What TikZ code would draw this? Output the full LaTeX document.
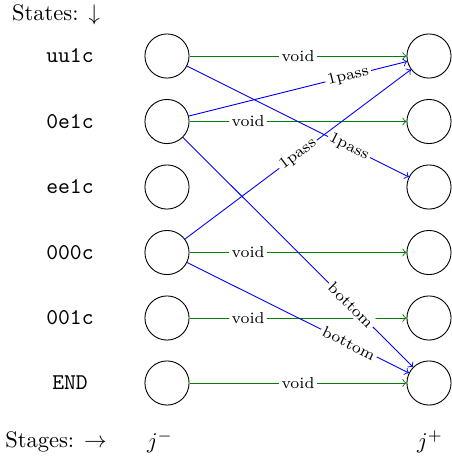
\documentclass[tikz,border=0pt]{standalone}
\begin{document}
\begin{tikzpicture}[x=0.444pt, y=-0.444pt]
    \tikzset{
        statenode/.style={draw, circle, minimum size=19.6pt, inner sep=0pt},
        voidedge/.style={draw=green!50!black, ->},
        passedge/.style={draw=blue, ->},
        edgelabel/.style={font=\scriptsize, fill=white, inner sep=1pt, sloped}
    }
    \useasboundingbox (0,0) rectangle (452,468);

    \node (states) at (56,15) {States: $\downarrow$};
    \foreach \name/\txt/\y in {uu/uu1c/56, 0e/0e1c/121.5, ee/ee1c/187, 000/000c/252.5, 001/001c/318, end/END/383} {
        \node[font=\ttfamily] (lab-\name) at (70,\y) {\txt};
        \node[statenode] (\name-m) at (167,\y) {};
        \node[statenode] (\name-p) at (429,\y) {};
    }
    \node (stages) at (56,442) {Stages: $\rightarrow$};
    \node (jm) at (160,442) {$j^-$};
    \node (jp) at (430,442) {$j^+$};

    % void transitions
    \draw[voidedge] (uu-m) -- node[edgelabel, pos=0.5] {void} (uu-p);
    \draw[voidedge] (0e-m) -- node[edgelabel, pos=0.27] {void} (0e-p);
    \draw[voidedge] (000-m) -- node[edgelabel, pos=0.27] {void} (000-p);
    \draw[voidedge] (001-m) -- node[edgelabel, pos=0.27] {void} (001-p);
    \draw[voidedge] (end-m) -- node[edgelabel, pos=0.5] {void} (end-p);

    % pass and bottom transitions
    \draw[passedge] (uu-m) -- node[edgelabel, pos=0.73] {1pass} (ee-p);
    \draw[passedge] (0e-m) -- node[edgelabel, pos=0.73] {1pass} (uu-p);
    \draw[passedge] (000-m) -- node[edgelabel, pos=0.5] {1pass} (uu-p);
    \draw[passedge] (0e-m) -- node[edgelabel, pos=0.73] {bottom} (end-p);
    \draw[passedge] (000-m) -- node[edgelabel, pos=0.73] {bottom} (end-p);
\end{tikzpicture}
\end{document}
